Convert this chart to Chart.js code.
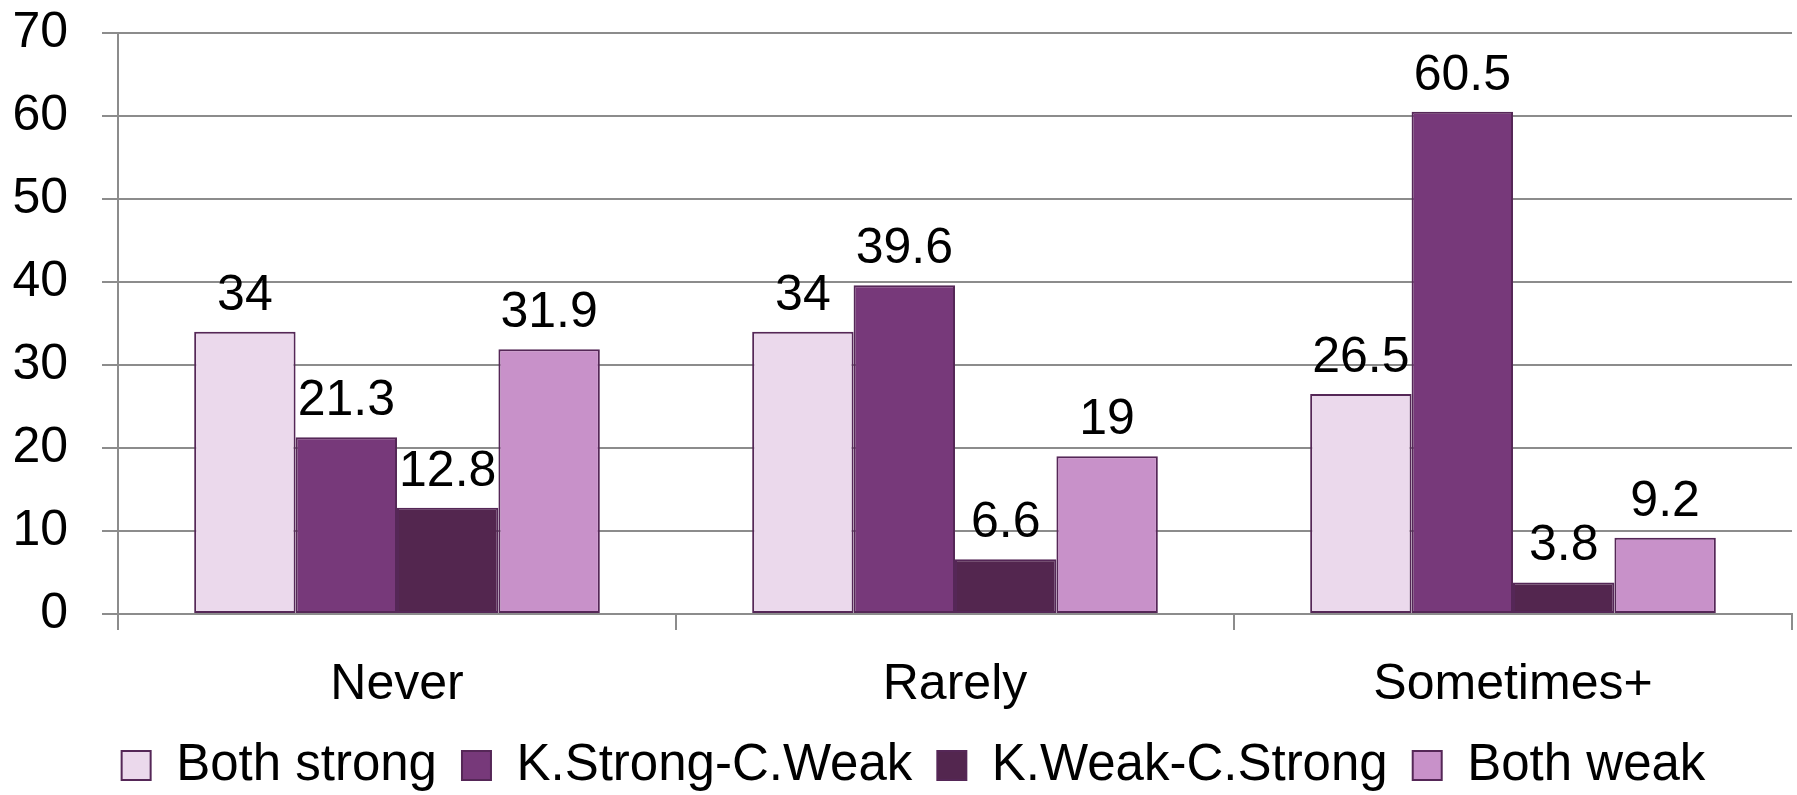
<!DOCTYPE html>
<html>
<head>
<meta charset="utf-8">
<script src="https://cdn.jsdelivr.net/npm/chart.js@4"></script>
<style>
  html, body { margin: 0; padding: 0; background: #fff; }
  #wrap { width: 1797px; height: 795px; }
</style>
</head>
<body>
<div id="wrap"><canvas id="c" width="1797" height="795"></canvas></div>
<script>
const categories = ["Never", "Rarely", "Sometimes+"];
const seriesNames = ["Both strong", "K.Strong-C.Weak", "K.Weak-C.Strong", "Both weak"];
const bothStrong = [34, 34, 26.5];
const kStrongCWeak = [21.3, 39.6, 60.5];
const kWeakCStrong = [12.8, 6.6, 3.8];
const bothWeak = [31.9, 19, 9.2];
const yTicks = [0, 10, 20, 30, 40, 50, 60, 70];

const colors = ["#EBD9EC", "#77397A", "#53264F", "#C891C9"];
const seriesValues = [bothStrong, kStrongCWeak, kWeakCStrong, bothWeak];
const FONT = "'Liberation Sans', Arial, sans-serif";

const valueLabels = {
  id: 'valueLabels',
  afterDatasetsDraw(chart) {
    const ctx = chart.ctx;
    ctx.save();
    ctx.font = "50px " + FONT;
    ctx.fillStyle = "#000";
    ctx.textAlign = "center";
    ctx.textBaseline = "alphabetic";
    chart.data.datasets.forEach((ds, i) => {
      const meta = chart.getDatasetMeta(i);
      meta.data.forEach((bar, j) => {
        ctx.fillText(String(ds.data[j]), bar.x, bar.y - 22);
      });
    });
    ctx.restore();
  }
};

const legendShift = {
  id: 'legendShift',
  afterLayout(chart) {
    if (chart.legend) { chart.legend.left += 12; chart.legend.right += 12; }
  }
};

new Chart(document.getElementById('c'), {
  type: 'bar',
  data: {
    labels: categories,
    datasets: seriesNames.map((name, i) => ({
      label: name,
      data: seriesValues[i],
      backgroundColor: colors[i],
      borderColor: "#552757",
      borderWidth: 2,
      borderSkipped: false,
      categoryPercentage: 0.727,
      barPercentage: 1.0
    }))
  },
  options: {
    responsive: false,
    animation: false,
    devicePixelRatio: 1,
    layout: { padding: { top: 33, right: 5, left: 11, bottom: -6 } },
    plugins: {
      tooltip: { enabled: false },
      legend: {
        position: 'bottom',
        labels: {
          font: { family: FONT, size: 51 },
          color: "#000",
          boxWidth: 29,
          boxHeight: 29,
          padding: 25
        }
      }
    },
    scales: {
      x: {
        offset: true,
        afterFit(s) { s.paddingLeft = 0; s.paddingRight = 0; s.height -= 25; },
        grid: {
          offset: true,
          drawOnChartArea: false,
          drawTicks: true,
          tickLength: 16,
          color: "#8C8C8C",
          lineWidth: 2
        },
        border: { display: true, color: "#8C8C8C", width: 2 },
        ticks: {
          font: { family: FONT, size: 50 },
          color: "#000",
          padding: 25
        }
      },
      y: {
        min: 0,
        max: 70,
        afterBuildTicks(scale) { scale.ticks = yTicks.map(v => ({ value: v })); },
        afterFit(s) { s.width = 107; s.paddingTop = 0; s.paddingBottom = 0; },
        grid: {
          color: "#8C8C8C",
          lineWidth: 2,
          tickLength: 16,
          drawTicks: true
        },
        border: { display: true, color: "#8C8C8C", width: 2 },
        ticks: {
          font: { family: FONT, size: 50 },
          color: "#000",
          padding: 34
        }
      }
    }
  },
  plugins: [valueLabels, legendShift]
});
</script>
</body>
</html>
